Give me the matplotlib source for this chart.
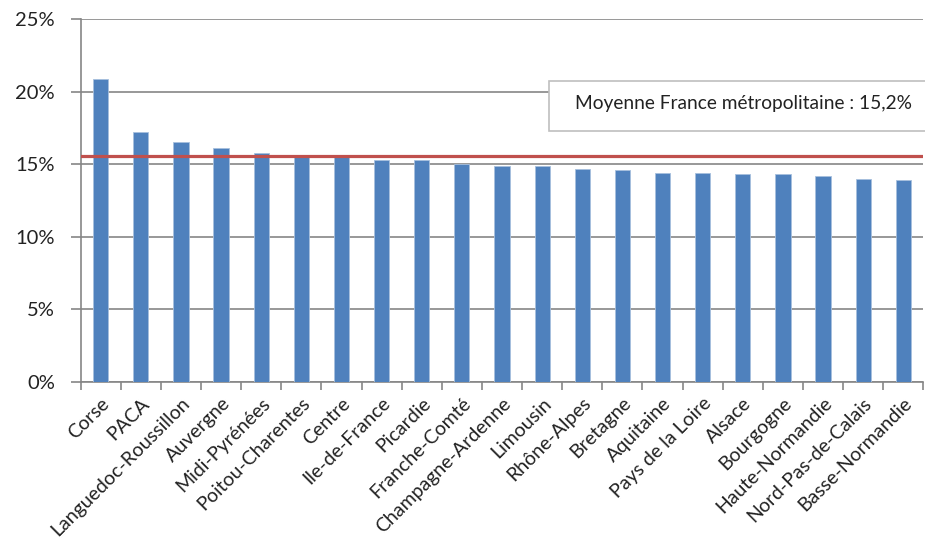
import matplotlib
matplotlib.use("Agg")
import matplotlib.pyplot as plt
from matplotlib.patches import Rectangle
from matplotlib.ticker import FuncFormatter, FixedLocator

regions = ["Corse", "PACA", "Languedoc-Roussillon", "Auvergne", "Midi-Pyrénées",
           "Poitou-Charentes", "Centre", "Ile-de-France", "Picardie", "Franche-Comté",
           "Champagne-Ardenne", "Limousin", "Rhône-Alpes", "Bretagne", "Aquitaine",
           "Pays de la Loire", "Alsace", "Bourgogne", "Haute-Normandie",
           "Nord-Pas-de-Calais", "Basse-Normandie"]
values = [20.9, 17.2, 16.5, 16.1, 15.8, 15.6, 15.5, 15.3, 15.3, 15.0, 14.9, 14.9,
          14.7, 14.6, 14.4, 14.4, 14.3, 14.3, 14.2, 14.0, 13.9]
mean_line = 15.6
mean_label = "Moyenne France métropolitaine : 15,2%"
yticks = [0, 5, 10, 15, 20, 25]

plt.rcParams['font.family'] = ['Lato', 'DejaVu Sans']

fig = plt.figure(figsize=(9.25, 5.42), dpi=100)
ax = fig.add_axes([0.0872, 0.2952, 0.9110, 0.6697])

x = list(range(len(regions)))
ax.bar(x, values, width=0.38, color="#4F81BD", edgecolor="#A7C0DE", linewidth=0.6, zorder=3)
ax.axhline(mean_line, color="#C0504D", linewidth=2.3, zorder=4)

ax.set_xlim(-0.5, len(regions) - 0.5)
ax.set_ylim(0, 25)
ax.set_yticks(yticks)
ax.yaxis.set_major_formatter(FuncFormatter(lambda v, p: f"{int(v)}%"))
ax.grid(axis="y", color="#868686", linewidth=1.2, zorder=0)
ax.set_axisbelow(True)

ax.set_xticks(x)
ax.set_xticklabels(regions, rotation=45, ha="right", va="top", rotation_mode="anchor",
                   fontsize=14, color="#222222")
ax.xaxis.set_minor_locator(FixedLocator([i - 0.5 for i in range(len(regions) + 1)]))
ax.tick_params(axis="x", which="major", length=0, pad=9)
ax.tick_params(axis="x", which="minor", length=6, width=1.2, color="#868686")
ax.tick_params(axis="y", length=7, width=1.2, color="#868686", labelsize=14.5,
               labelcolor="#222222", pad=11.5)

for side in ["top", "right"]:
    ax.spines[side].set_visible(False)
for side in ["left", "bottom"]:
    ax.spines[side].set_color("#868686")
    ax.spines[side].set_linewidth(1.2)

box = Rectangle((0.5558, 0.692), 0.6, 0.137, transform=ax.transAxes, facecolor="white",
                edgecolor="#BFBFBF", linewidth=1.2, zorder=5, clip_on=False)
ax.add_patch(box)
ax.text(0.5866, 0.7686, mean_label, transform=ax.transAxes, ha="left", va="center",
        fontsize=13.8, color="#222222", zorder=6, clip_on=False)

fig.savefig("out.png", dpi=100)
